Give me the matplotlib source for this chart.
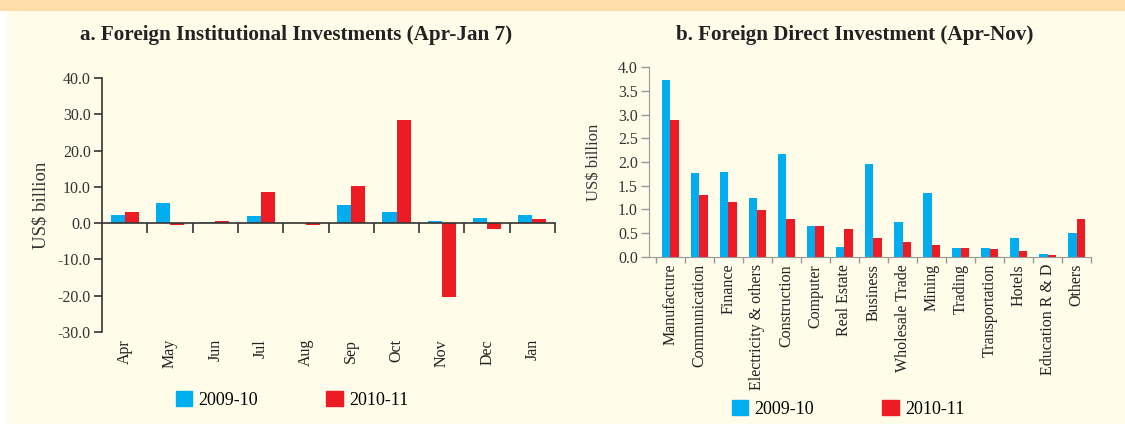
import matplotlib
matplotlib.use('Agg')
import matplotlib.pyplot as plt
import numpy as np
from matplotlib.patches import Rectangle, Patch
from matplotlib.ticker import FormatStrFormatter

plt.rcParams['font.family'] = ['Liberation Serif', 'DejaVu Serif']
plt.rcParams['axes.unicode_minus'] = False

BLUE = '#00AEEF'
RED = '#ED1C24'
CREAM = '#FFFCE9'

months = ['Apr', 'May', 'Jun', 'Jul', 'Aug', 'Sep', 'Oct', 'Nov', 'Dec', 'Jan']
fii_2009 = [2.3, 5.5, 0.3, 1.9, 0.0, 5.0, 3.0, 0.6, 1.4, 2.2]
fii_2010 = [3.0, -0.5, 0.6, 8.6, -0.5, 10.2, 28.5, -20.4, -1.7, 1.1]

sectors = ['Manufacture', 'Communication', 'Finance', 'Electricity & others',
           'Construction', 'Computer', 'Real Estate', 'Business',
           'Wholesale Trade', 'Mining', 'Trading', 'Transportation',
           'Hotels', 'Education R & D', 'Others']
fdi_2009 = [3.72, 1.76, 1.78, 1.24, 2.16, 0.65, 0.22, 1.95, 0.73, 1.34,
            0.18, 0.18, 0.39, 0.06, 0.50]
fdi_2010 = [2.88, 1.30, 1.15, 0.98, 0.79, 0.65, 0.58, 0.39, 0.31, 0.25,
            0.18, 0.16, 0.12, 0.035, 0.79]

series_labels = ['2009-10', '2010-11']


def main():
    fig = plt.figure(figsize=(11.25, 4.24), dpi=100)
    fig.patch.set_facecolor('white')
    # cream panel and orange band at the top
    fig.add_artist(Rectangle((7 / 1125, 0), 1, 1, transform=fig.transFigure,
                             facecolor=CREAM, edgecolor='none', zorder=-10))
    fig.add_artist(Rectangle((0, 1 - 11 / 424), 1, 11 / 424,
                             transform=fig.transFigure, facecolor='#FEDDA8',
                             edgecolor='none', zorder=-9))

    # ---- a. FII ----
    ax1 = fig.add_axes([0.0907, 0.217, 0.4027, 0.599])
    ax1.set_facecolor('none')
    x = np.arange(len(months))
    w = 0.31
    ax1.bar(x - w / 2, fii_2009, w, color=BLUE, zorder=2)
    ax1.bar(x + w / 2, fii_2010, w, color=RED, zorder=2)
    ax1.set_xlim(-0.5, len(months) - 0.5)
    ax1.set_ylim(-30, 40)
    ax1.set_yticks(np.arange(-30, 41, 10))
    ax1.yaxis.set_major_formatter(FormatStrFormatter('%.1f'))
    ax1.tick_params(axis='y', direction='out', length=6, width=1.2,
                    color='#333333', labelsize=11.5, labelcolor='#333333', pad=2)
    for s in ['top', 'right']:
        ax1.spines[s].set_visible(False)
    ax1.spines['left'].set_color('#333333')
    ax1.spines['left'].set_linewidth(1.2)
    ax1.spines['bottom'].set_position(('data', 0))
    ax1.spines['bottom'].set_color('#333333')
    ax1.spines['bottom'].set_linewidth(1.2)
    ax1.set_xticks([])
    ax1.set_xticks(np.arange(0.5, len(months), 1), minor=True)
    ax1.tick_params(axis='x', which='minor', direction='out', length=7,
                    width=1.2, color='#333333')
    sec = ax1.secondary_xaxis(0)
    sec.set_xticks(x, months, rotation=90, va='top')
    sec.tick_params(length=0, labelsize=11.5, pad=5, labelcolor='#222222')
    sec.spines['bottom'].set_visible(False)
    ax1.set_ylabel('US$ billion', fontsize=13.5, color='#333333')
    ax1.yaxis.set_label_coords(-0.115, 0.5)

    fig.text(296 / 1125, 1 - 35 / 424,
             'a. Foreign Institutional Investments (Apr-Jan 7)',
             ha='center', va='center', fontsize=15.2, fontweight='bold',
             color='#222222')

    handles = [Patch(color=BLUE), Patch(color=RED)]
    fig.legend(handles, series_labels, loc='center',
               bbox_to_anchor=(292 / 1125, 1 - 400 / 424), ncol=2,
               frameon=False, fontsize=13, handlelength=0.9,
               handleheight=0.9, handletextpad=0.35, columnspacing=3.8)

    # ---- b. FDI ----
    ax2 = fig.add_axes([0.5769, 0.3939, 0.3929, 0.448])
    ax2.set_facecolor('none')
    x2 = np.arange(len(sectors))
    w2 = 0.30
    ax2.bar(x2 - w2 / 2, fdi_2009, w2, color=BLUE, zorder=2)
    ax2.bar(x2 + w2 / 2, fdi_2010, w2, color=RED, zorder=2)
    ax2.set_xlim(-0.74, len(sectors) - 0.5)
    ax2.set_ylim(0, 4.0)
    ax2.set_yticks(np.arange(0, 4.01, 0.5))
    ax2.yaxis.set_major_formatter(FormatStrFormatter('%.1f'))
    ax2.tick_params(axis='y', direction='out', length=6, width=1,
                    color='#999999', labelsize=11.5, labelcolor='#333333', pad=2)
    for s in ['top', 'right']:
        ax2.spines[s].set_visible(False)
    for s in ['left', 'bottom']:
        ax2.spines[s].set_color('#999999')
    ax2.set_xticks(x2, sectors, rotation=90, va='top')
    ax2.tick_params(axis='x', which='major', length=0, labelsize=11.5,
                    pad=5, labelcolor='#222222')
    ax2.set_xticks(np.arange(-0.5, len(sectors), 1), minor=True)
    ax2.tick_params(axis='x', which='minor', direction='out', length=4,
                    width=1, color='#999999')
    ax2.set_ylabel('US$ billion', fontsize=12, color='#333333')
    ax2.yaxis.set_label_coords(-0.106, 0.5)

    fig.text(855 / 1125, 1 - 35 / 424,
             'b. Foreign Direct Investment (Apr-Nov)',
             ha='center', va='center', fontsize=15.2, fontweight='bold',
             color='#222222')

    fig.legend(handles, series_labels, loc='center',
               bbox_to_anchor=(848 / 1125, 1 - 409 / 424), ncol=2,
               frameon=False, fontsize=13, handlelength=0.9,
               handleheight=0.9, handletextpad=0.35, columnspacing=3.8)

    fig.savefig('out.png', dpi=100, facecolor=fig.get_facecolor())


if __name__ == '__main__':
    main()
